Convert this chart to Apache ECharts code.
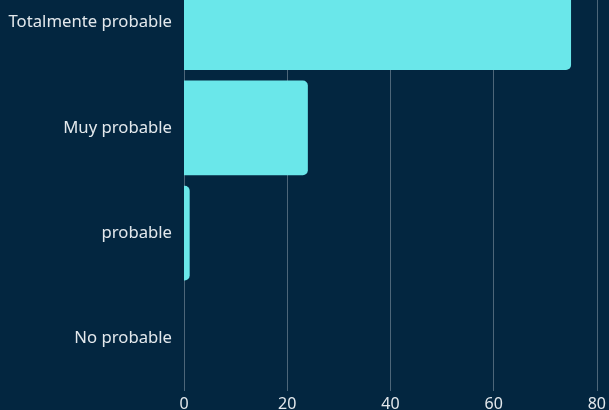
<!DOCTYPE html>
<html><head><meta charset="utf-8">
<script src="https://cdn.jsdelivr.net/npm/echarts@6/dist/echarts.min.js"></script>
<style>html,body{margin:0;padding:0;background:#032640;overflow:hidden;}#c{width:609px;height:442px;margin-top:-30px;}</style>
</head><body><div id="c"></div>
<script>
const categories = ["Totalmente probable", "Muy probable", "probable", "No probable"];
const values = [75, 24, 1.1, 0];
const xTicks = [0, 20, 40, 60, 80];

const chart = echarts.init(document.getElementById('c'));
chart.setOption({
  backgroundColor: '#032640',
  animation: false,
  grid: { left: 184, right: 11, top: 0, bottom: 19, containLabel: false },
  xAxis: {
    type: 'value', min: xTicks[0], max: xTicks[xTicks.length-1], interval: 20,
    axisLine: { show: false }, axisTick: { show: false },
    splitLine: { show: true, lineStyle: { color: '#4d6679', width: 1 } },
    axisLabel: { color: '#e3e8ec', fontSize: 16, fontFamily: 'Noto Sans', margin: 5 }
  },
  yAxis: {
    type: 'category', data: categories, inverse: true,
    axisLine: { show: false }, axisTick: { show: false },
    axisLabel: { color: '#e3e8ec', fontSize: 16.7, fontFamily: 'Noto Sans', margin: 12 }
  },
  series: [{
    type: 'bar', data: values, barCategoryGap: '10%',
    itemStyle: { color: '#6ae7ea', borderRadius: [0, 5, 5, 0] }
  }]
});
</script></body></html>
